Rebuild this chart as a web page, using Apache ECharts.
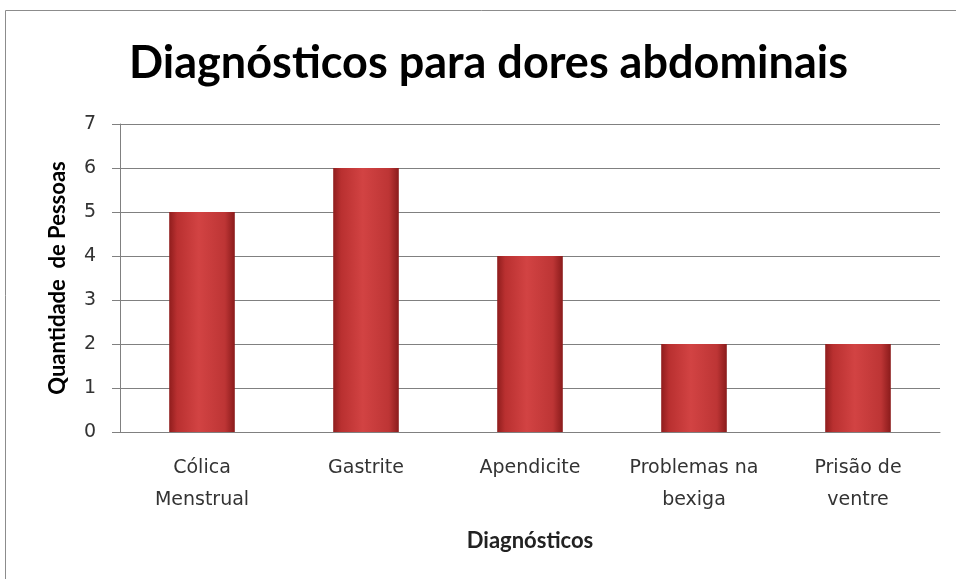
<!DOCTYPE html>
<html>
<head>
<meta charset="utf-8">
<script src="https://cdn.jsdelivr.net/npm/echarts@6/dist/echarts.min.js"></script>
<style>
  html, body { margin: 0; padding: 0; background: #fff; }
  #chart { width: 956px; height: 579px; }
</style>
</head>
<body>
<div id="chart"></div>
<script>
// categories and values
const categories = ["Cólica\nMenstrual", "Gastrite", "Apendicite", "Problemas na\nbexiga", "Prisão de\nventre"];
const pessoas = [5, 6, 4, 2, 2];
const yTicks = { min: 0, max: 7, interval: 1 };

const chart = echarts.init(document.getElementById("chart"));

// red "cylinder" shading like the Excel bars
const barFill = new echarts.graphic.LinearGradient(0, 0, 1, 0, [
  { offset: 0, color: "#8f1d1d" },
  { offset: 0.12, color: "#b93030" },
  { offset: 0.45, color: "#d24343" },
  { offset: 0.85, color: "#bd3535" },
  { offset: 1, color: "#8a1b1b" },
]);

const option = {
  backgroundColor: "#fff",
  animation: false,
  title: {
    text: "Diagnósticos para dores abdominais",
    left: 124,
    top: 36,
    textStyle: {
      fontFamily: "Lato",
      fontWeight: "bold",
      fontSize: 45,
      color: "#000",
    },
  },
  graphic: [
    {
      type: "rect",
      shape: { x: 5.5, y: 10.5, width: 1000, height: 700 },
      style: { fill: "none", stroke: "#8c8c8c", lineWidth: 1 },
      silent: true,
    },
  ],
  grid: {
    left: 120,
    right: 16,
    top: 124,
    bottom: 147,
  },
  xAxis: {
    type: "category",
    data: categories,
    name: "Diagnósticos",
    nameLocation: "middle",
    nameGap: 98,
    nameTextStyle: {
      fontFamily: "Lato",
      fontWeight: "bold",
      fontSize: 22,
      color: "#222",
    },
    axisLine: { lineStyle: { color: "#808080" } },
    axisTick: { show: false },
    axisLabel: {
      fontFamily: "DejaVu Sans",
      fontSize: 19,
      color: "#333",
      lineHeight: 32,
      margin: 20,
      interval: 0,
    },
  },
  yAxis: {
    type: "value",
    min: yTicks.min,
    max: yTicks.max,
    interval: yTicks.interval,
    name: "Quantidade  de Pessoas",
    nameLocation: "middle",
    nameGap: 51,
    nameTextStyle: {
      fontFamily: "Lato",
      fontWeight: "bold",
      fontSize: 22,
      color: "#000",
    },
    axisLine: { show: true, lineStyle: { color: "#808080" } },
    axisTick: { show: true, length: 8, lineStyle: { color: "#808080" } },
    axisLabel: {
      fontFamily: "DejaVu Sans",
      fontSize: 19,
      color: "#333",
      margin: 24,
    },
    splitLine: { lineStyle: { color: "#808080", width: 1 } },
  },
  series: [
    {
      type: "bar",
      data: pessoas,
      barWidth: "40%",
      itemStyle: { color: barFill },
    },
  ],
};

chart.setOption(option);
</script>
</body>
</html>
